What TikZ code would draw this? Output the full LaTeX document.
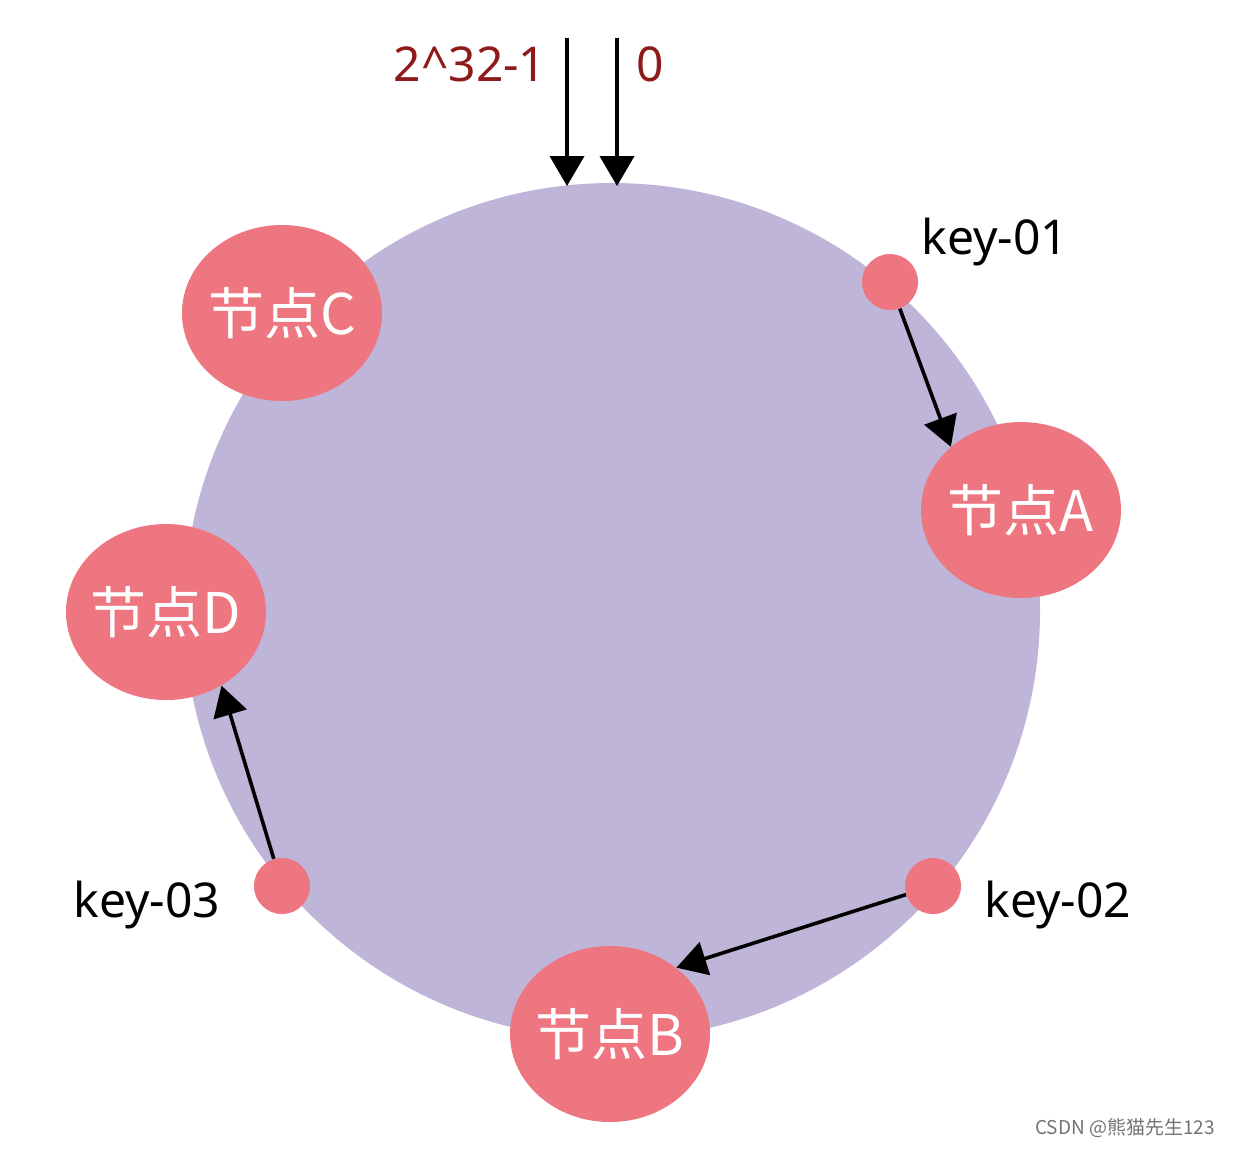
\documentclass[tikz,border=0pt]{standalone}
\usepackage{fontspec}
\setmainfont{Noto Sans}
\newfontfamily\cjk{Noto Sans CJK SC}
\usetikzlibrary{shapes.geometric,arrows.meta}
\definecolor{ring}{HTML}{BFB5D8}
\definecolor{nodered}{HTML}{EE7681}
\definecolor{numred}{HTML}{8E1A1A}
\tikzset{
  server/.style={ellipse, fill=nodered, minimum width=100pt, minimum height=88pt, inner sep=-10pt, text=white, font=\cjk\fontsize{28}{30}\selectfont},
  keydot/.style={circle, fill=nodered, minimum size=28pt, inner sep=0pt},
  keylabel/.style={font=\fontsize{24}{26}\selectfont, text=black},
  numlabel/.style={font=\fontsize{24}{26}\selectfont, text=numred},
  arr/.style={-{Triangle[length=15pt,width=17pt]}, line width=1.8pt, black},
  toparr/.style={-{Triangle[length=15pt,width=17pt]}, line width=2pt, black}
}
\begin{document}
\begin{tikzpicture}[x=0.5pt,y=-0.5pt]
\useasboundingbox[fill=white] (0,0) rectangle (1234,1148);
\node[circle, fill=ring, minimum size=428pt, inner sep=0pt] (ring) at (612,611) {};
\node[server] (C) at (282,313) {节点C};
\node[server] (A) at (1021,510) {节点A};
\node[server] (D) at (166,612) {节点D};
\node[server] (B) at (610,1034) {节点B};
\node[keydot] (k1) at (890,282) {};
\node[keydot] (k2) at (933,886) {};
\node[keydot] (k3) at (282,886) {};
\node[keylabel] (l1) at (995,242) {key-01};
\node[keylabel] (l2) at (1058,905) {key-02};
\node[keylabel] (l3) at (147,905) {key-03};
\node[numlabel] (n1) at (470,64) {2\^{}32-1};
\node[numlabel] (n0) at (650,64) {0};
\coordinate (s1) at (567,38);
\coordinate (e1) at (567,186);
\coordinate (s0) at (617,38);
\coordinate (e0) at (617,186);
\draw[toparr] (s1) -- (e1);
\draw[toparr] (s0) -- (e0);
\draw[arr] (k1) -- (A.138);
\draw[arr] (k2) -- (B.45);
\draw[arr] (k3) -- (D.-53);
\node[font=\cjk\fontsize{9.5}{11}\selectfont, text=black!55] (wm) at (1125,1128) {CSDN @熊猫先生123};
\end{tikzpicture}
\end{document}
